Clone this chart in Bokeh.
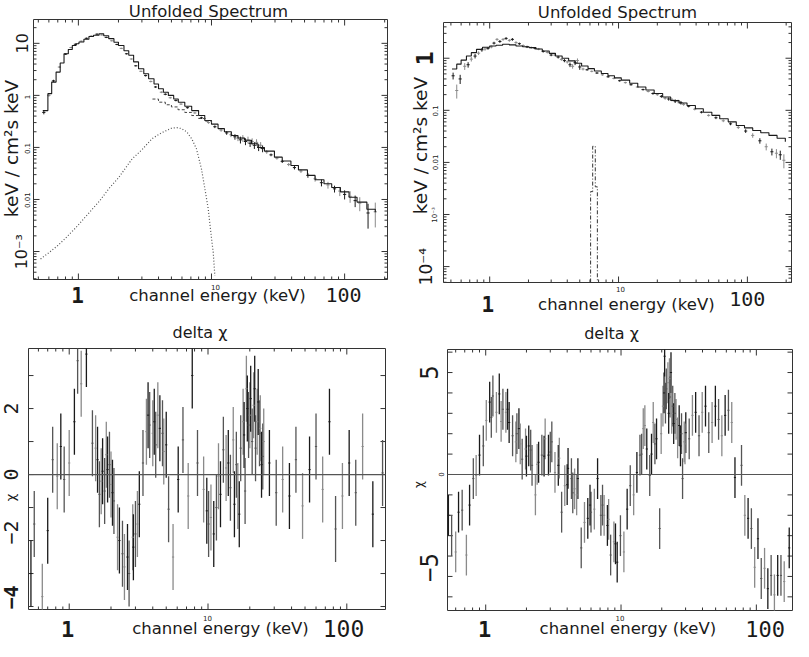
import math
from bokeh.plotting import figure
from bokeh.models import Label
from bokeh.layouts import column, row
from bokeh.embed import file_html
from bokeh.resources import INLINE

# ---------------- data: panel A (top-left, unfolded spectrum) ----------------
a_model_e = [0.54, 0.59, 0.63, 0.68, 0.73, 0.78, 0.84, 0.90, 0.96, 1.01,
             1.1, 1.2, 1.3, 1.43, 1.55, 1.69, 1.85, 2.0, 2.2, 2.39,
             2.6, 2.83, 3.1, 3.37, 3.7, 4.0, 4.35, 4.74, 5.2, 5.63,
             6.3, 7.1, 8.0, 8.9, 10.0, 11.2, 12.5, 14.1, 15.8, 17.7,
             20, 22.3, 25, 29.7, 34, 39.5, 45, 52.6, 60, 70,
             80, 93, 108, 124, 147, 170]
a_model_f = [0.51, 1.08, 1.8, 2.8, 4.2, 6.3, 7.6, 9.1, 9.8, 10.6,
             12.0, 13.5, 14.3, 15.3, 14.0, 12.3, 10.5, 9.1, 7.2, 5.9,
             4.4, 3.25, 2.6, 2.09, 1.65, 1.34, 1.15, 1.0, 0.85, 0.74,
             0.62, 0.51, 0.41, 0.33, 0.28, 0.23, 0.2, 0.17, 0.152, 0.137,
             0.118, 0.10, 0.085, 0.065, 0.055, 0.045, 0.037, 0.029, 0.024, 0.020,
             0.017, 0.014, 0.011, 0.0089, 0.0065, 0.0057]
a_pl_e = [3.6, 4.0, 4.5, 5.0, 5.6, 6.3, 7.1, 8.0, 9.0, 10.0]
a_pl_f = [0.85, 0.74, 0.66, 0.6, 0.53, 0.47, 0.41, 0.36, 0.32, 0.28]
a_bb_e = [0.52, 0.6, 0.7, 0.8, 0.96, 1.2, 1.45, 1.69, 2.0, 2.53, 3.0, 3.57, 4.2,
          5.03, 5.5, 5.98, 6.5, 7.1, 7.7, 8.4, 9.0, 9.45, 10.0, 10.3, 10.6]
a_bb_f = [7.2e-4, 9.5e-4, 1.3e-3, 1.8e-3, 2.9e-3, 5.5e-3, 9.5e-3, 0.016, 0.026, 0.06,
          0.09, 0.147, 0.19, 0.235, 0.24, 0.229, 0.2, 0.147, 0.095, 0.039, 0.014,
          6.6e-3, 1.8e-3, 9.7e-4, 3.4e-4]
a_data_e = [0.55, 0.6, 0.65, 0.72, 0.8, 0.88, 0.95, 1.05, 1.15, 1.25,
            1.38, 1.5, 1.62, 1.78, 1.95, 2.1, 2.3, 2.5, 2.7, 2.95,
            3.2, 3.5, 3.8, 4.2, 4.5, 4.9, 5.4, 5.9, 6.6, 7.5,
            8.4, 9.5, 10.6, 11.8, 13.0, 14.0, 15.0, 15.8, 16.5, 17.2,
            18.0, 18.8, 19.5, 20.2, 21.0, 21.8, 22.6, 23.4, 24.2, 26,
            28, 31, 34, 38, 42, 47, 53, 60, 67, 75,
            84, 92, 100, 110, 120, 130, 150, 170]
a_data_f = [0.47, 1.0, 1.9, 3.5, 6.2, 8.3, 9.6, 11.0, 12.5, 13.8,
            15.0, 14.5, 13.0, 11.2, 9.5, 8.0, 6.3, 5.0, 3.7, 2.9,
            2.4, 1.85, 1.45, 1.15, 1.05, 0.9, 0.8, 0.68, 0.58, 0.46,
            0.37, 0.3, 0.25, 0.215, 0.19, 0.175, 0.16, 0.15, 0.14, 0.15,
            0.13, 0.14, 0.12, 0.13, 0.11, 0.125, 0.10, 0.11, 0.095, 0.082,
            0.072, 0.062, 0.054, 0.047, 0.041, 0.035, 0.029, 0.025, 0.021, 0.019,
            0.016, 0.0145, 0.0125, 0.0115, 0.0095, 0.0085, 0.0055, 0.0058]
a_data_rel = [0.08, 0.06, 0.05, 0.04, 0.03, 0.03, 0.03, 0.03, 0.03, 0.03,
              0.03, 0.03, 0.03, 0.03, 0.03, 0.03, 0.03, 0.03, 0.03, 0.03,
              0.04, 0.04, 0.04, 0.04, 0.04, 0.04, 0.04, 0.04, 0.04, 0.04,
              0.05, 0.05, 0.06, 0.07, 0.08, 0.1, 0.12, 0.12, 0.15, 0.15,
              0.15, 0.15, 0.15, 0.15, 0.15, 0.15, 0.15, 0.15, 0.15, 0.08,
              0.06, 0.06, 0.07, 0.07, 0.08, 0.08, 0.1, 0.12, 0.15, 0.15,
              0.15, 0.2, 0.2, 0.25, 0.25, 0.3, 0.5, 0.5]

# ---------------- data: panel B (top-right, unfolded spectrum) ----------------
b_model_e = [0.51, 0.555, 0.6, 0.66, 0.72, 0.79, 0.88, 1.0, 1.12, 1.26,
             1.42, 1.6, 1.8, 2.02, 2.28, 2.56, 2.9, 3.24, 3.65, 4.1,
             4.6, 5.17, 5.8, 6.5, 7.35, 8.28, 9.3, 10.5, 12.2, 14.1,
             16.3, 18.9, 22, 25.4, 29.5, 34, 39.5, 45.5, 53, 61,
             71, 82, 95, 110, 127, 147, 170, 197]
b_model_f = [0.62, 0.77, 0.92, 1.1, 1.28, 1.48, 1.62, 1.72, 1.78, 1.85,
             1.8, 1.72, 1.66, 1.6, 1.5, 1.38, 1.24, 1.1, 1.0, 0.89,
             0.8, 0.71, 0.63, 0.57, 0.51, 0.46, 0.42, 0.38, 0.33, 0.28,
             0.245, 0.21, 0.18, 0.154, 0.138, 0.124, 0.107, 0.092, 0.08, 0.069,
             0.06, 0.051, 0.046, 0.041, 0.037, 0.033, 0.029, 0.025]
b_line_edges = [6.07, 6.3, 6.6, 6.85]
b_line_f = [0.00275, 0.0204, 0.0034]
b_data_e = [0.52, 0.555, 0.59, 0.64, 0.68, 0.72, 0.77, 0.82, 0.87, 0.92,
            0.97, 1.03, 1.08, 1.14, 1.2, 1.27, 1.34, 1.42, 1.5, 1.6,
            1.7, 1.82, 1.95, 2.1, 2.25, 2.4, 2.6, 2.8, 3.0, 3.2,
            3.4, 3.6, 3.8, 4.0, 4.2, 4.4, 4.6, 4.8, 5.0, 5.3,
            5.7, 6.2, 6.8, 7.5, 8.3, 9.2, 10.2, 11.3, 12.5, 14,
            15.5, 17, 18.5, 20, 21.5, 23, 24.5, 26, 27.5, 29,
            30.5, 32, 35, 39, 44, 50, 57, 65, 74, 85,
            97, 110, 125, 140, 155, 168, 180, 192]
b_data_f = [0.46, 0.24, 0.4, 0.7, 0.75, 0.96, 1.1, 1.25, 1.45, 1.5,
            1.55, 1.65, 1.95, 2.3, 2.1, 2.3, 2.4, 2.2, 2.3, 2.0,
            1.9, 1.75, 1.65, 1.6, 1.55, 1.5, 1.35, 1.3, 1.15, 1.15,
            1.05, 0.95, 0.9, 0.85, 0.75, 0.7, 0.82, 0.9, 0.68, 0.62,
            0.6, 0.56, 0.52, 0.48, 0.44, 0.41, 0.37, 0.34, 0.31, 0.28,
            0.25, 0.23, 0.21, 0.2, 0.185, 0.17, 0.165, 0.16, 0.15, 0.148,
            0.14, 0.13, 0.12, 0.105, 0.092, 0.08, 0.072, 0.063, 0.055, 0.047,
            0.04, 0.033, 0.026, 0.02, 0.016, 0.015, 0.014, 0.011]
b_data_rel = [0.15, 0.3, 0.2, 0.15, 0.12, 0.1, 0.1, 0.08, 0.08, 0.07,
              0.06, 0.06, 0.06, 0.06, 0.06, 0.06, 0.06, 0.06, 0.06, 0.06,
              0.05, 0.05, 0.05, 0.05, 0.05, 0.05, 0.05, 0.05, 0.05, 0.05,
              0.06, 0.06, 0.07, 0.07, 0.1, 0.1, 0.1, 0.1, 0.12, 0.06,
              0.04, 0.04, 0.04, 0.04, 0.04, 0.04, 0.04, 0.04, 0.04, 0.04,
              0.04, 0.04, 0.05, 0.05, 0.06, 0.06, 0.07, 0.07, 0.08, 0.08,
              0.08, 0.06, 0.05, 0.05, 0.05, 0.05, 0.06, 0.06, 0.06, 0.07,
              0.08, 0.1, 0.12, 0.15, 0.15, 0.2, 0.2, 0.3]

# ---------------- data: panel C (bottom-left, delta chi) ----------------
c_e = [0.53, 0.56, 0.64, 0.70, 0.76, 0.82, 0.87, 0.92, 1.0, 1.09,
       1.15, 1.22, 1.33, 1.47, 1.55, 1.6, 1.65, 1.7, 1.74, 1.8,
       1.85, 1.89, 1.95, 2.0, 2.05, 2.1, 2.23, 2.3, 2.42, 2.5,
       2.63, 2.7, 2.87, 2.9, 3.0, 3.1, 3.2, 3.4, 3.6, 3.7,
       3.8, 4.0, 4.1, 4.2, 4.35, 4.5, 4.7, 4.8, 5.0, 5.2,
       5.6, 6.1, 6.6, 7.2, 7.7, 8.4, 9.3, 9.8, 10.1, 10.5,
       11.0, 11.5, 11.9, 12.3, 12.9, 13.5, 14.0, 14.5, 15.2, 15.5,
       16.0, 16.4, 16.8, 17.2, 17.9, 18.2, 18.5, 18.9, 19.2, 19.6,
       20.0, 20.3, 20.8, 21.3, 21.7, 22.0, 22.6, 23.0, 23.5, 23.8,
       24.3, 24.8, 25.2, 27.7, 31, 34.5, 38.6, 43, 48, 53.9,
       60, 67, 75, 83, 93, 104, 116, 130, 154, 181]
c_r = [-3.0, -1.5, -3.7, -1.7, 0.45, -0.05, 0.85, -0.15, 0.35, 1.6,
       3.45, 2.75, 3.65, 0.95, 0.8, 0.45, -0.6, -0.2, 0.1, -0.5,
       0.6, 0.15, 0.3, -0.3, -0.55, -0.8, -1.9, -2.0, -2.4, -2.8,
       -2.5, -3.0, -1.9, -2.2, -1.8, -1.5, -0.9, 0.35, 1.3, 1.8,
       1.5, 1.25, 1.6, 0.9, 1.8, 1.4, 1.25, 0.7, 0.9, -1.05,
       -2.5, -0.15, 1.05, -0.65, 3.0, 0.35, -0.45, -1.1, -1.5, -1.3,
       -1.8, -1.0, -0.05, -0.6, 0.75, 0.2, 0.35, -0.4, 1.05, -0.9,
       0.3, -0.65, -1.2, 0.8, 1.6, 1.2, -0.5, 2.6, 2.0, 1.5,
       1.8, 2.3, 1.0, 2.1, 2.6, 0.8, 1.6, 2.2, 1.25, 1.4,
       0.3, 0.55, 1.0, 0.35, -0.55, -0.15, -0.65, 0.45, -0.95, 0.15,
       0.85, -0.45, 1.6, -1.65, -0.65, 0.35, -0.55, 0.85, -1.2, 0.05]

# ---------------- data: panel D (bottom-right, delta chi) ----------------
d_e = [0.53, 0.56, 0.6, 0.63, 0.67, 0.72, 0.76, 0.81, 0.85, 0.9,
       0.96, 1.01, 1.07, 1.13, 1.2, 1.26, 1.34, 1.41, 1.49, 1.58,
       1.67, 1.76, 1.86, 1.97, 2.08, 2.2, 2.33, 2.46, 2.6, 2.75,
       2.91, 3.08, 3.25, 3.44, 3.64, 3.84, 4.06, 4.3, 4.54, 4.8,
       5.08, 5.37, 5.68, 6.0, 6.35, 6.71, 7.1, 7.5, 7.93, 8.38,
       8.86, 9.37, 9.9, 10.5, 11.1, 11.7, 12.4, 13.1, 13.8, 14.6,
       15.5, 16.3, 17.3, 18.3, 19.3, 20.4, 21.0, 21.6, 22.8, 23.4,
       24.1, 25.5, 26.9, 28.5, 29.3, 30.1, 31.9, 33.7, 35.6, 37.7,
       39.8, 42.1, 44.5, 47.1, 49.8, 52.6, 55.6, 58.8, 62.2, 65.8,
       69.5, 77.7, 82.2, 86.9, 91.9, 97.2, 102.8, 108.7, 115, 121.6,
       128.6, 136, 143.8, 152, 160.7, 175,
       1.1, 1.3, 1.45, 1.7, 1.8, 2.0, 2.15, 2.4, 2.7, 3.0,
       3.5, 4.0, 4.4, 4.7, 5.9, 7.3, 8.1, 9.1, 14.2, 15.0,
       16.8, 17.8, 19.8, 20.8, 21.3, 22.2, 22.5, 23.0, 23.7, 24.5,
       25.0, 26.2, 27.5, 28.0, 29.7]
d_r = [-2.0, -3.0, -3.8, -1.85, -1.75, -3.95, -1.5, -0.2, -0.05, 0.95,
       1.4, 2.65, 3.55, 3.85, 3.05, 3.95, 3.2, 3.05, 2.55, 1.9,
       1.6, 2.25, 0.75, 1.25, 1.4, 0.45, -1.0, 0.6, 0.95, 1.75,
       0.95, 1.6, 0.1, 0.45, -1.85, -0.55, 0.3, -0.2, -0.7, -0.2,
       -3.6, -2.35, -2.15, -1.85, -1.7, -0.2, -2.0, -2.0, -2.5, -3.95,
       -3.3, -4.3, -3.0, -3.8, -1.7, -0.55, -1.0, 0.1, 0.95, 2.25,
       1.25, -0.05, 2.55, 1.75, -2.65, 3.35, 5.8, 4.2, 4.7, 5.0,
       3.35, 2.7, 2.4, -0.2, 1.6, 2.05, 1.75, 2.9, 3.05, 1.9,
       3.05, 3.35, 2.05, 2.55, 3.35, 2.7, 1.9, 2.9, 3.15, 2.55,
       -0.15, 0.45, -2.0, -2.15, -2.65, -4.55, -3.15, -5.1, -4.6, -5.6,
       -4.95, -5.9, -4.95, -4.95, -5.25, -3.6,
       2.8, 2.6, 3.2, 2.0, 1.5, 0.9, 1.2, 0.5, 0.9, 1.1,
       0.8, -0.5, -0.9, -1.0, -1.5, -1.5, -2.2, -3.4, 1.0, 2.4,
       1.0, 1.5, 2.0, 4.0, 3.5, 4.5, 3.0, 3.8, 3.0, 2.5,
       3.0, 1.8, 1.4, 2.0, 1.5]

# tick / text labels
x_tick_labels = ["1", "10", "100"]
y_ticks_a = ["10", "1", "0.1", "0.01", "10⁻³"]
y_ticks_b = ["1", "0.1", "0.01", "10⁻³", "10⁻⁴"]
y_ticks_c = ["2", "0", "−2", "−4"]
y_ticks_d = ["5", "0", "−5"]
xlabel = "channel energy (keV)"
ylabel_flux = "keV / cm²s keV"
ylabel_chi = "χ"
title_spec = "Unfolded Spectrum"
title_res = "delta  χ"

SANS = "DejaVu Sans"
MONO = "DejaVu Sans Mono"
INK = "#1a1a1a"
GREY = "#8a8a8a"
ROT = math.pi / 2

# plot-box geometry of the reference (page px) and axis ranges of each box
REF = {
    "A": dict(box=(41, 395, 25, 287), xr=(0.46, 210), yr=(2.9e-4, 28.7), ylog=True),
    "B": dict(box=(453, 807, 28, 290), xr=(0.438, 220), yr=(4.95e-5, 4.85), ylog=True),
    "C": dict(box=(36, 393, 356, 617), xr=(0.509, 190), yr=(-4.09, 3.82), ylog=False),
    "D": dict(box=(457, 809, 357, 618), xr=(0.522, 185), yr=(-6.67, 6.13), ylog=False),
}
# this page: figure rectangle (left, top, width, height) and plot box, page px
MINE = {
    "A": dict(fig=(8, 8, 392, 322), box=(41, 395, 27, 287)),
    "B": dict(fig=(400, 8, 401, 322), box=(451, 799, 30, 290)),
    "C": dict(fig=(8, 330, 392, 319), box=(36, 393, 356, 617)),
    "D": dict(fig=(400, 330, 401, 319), box=(455, 800, 357, 618)),
}


def fwd(v, log):
    return math.log10(v) if log else v


def inv(v, log):
    return 10 ** v if log else v


def conv_ref(key):
    g = REF[key]
    L, R, T, B = g["box"]
    lx0, lx1 = fwd(g["xr"][0], True), fwd(g["xr"][1], True)
    ly0, ly1 = fwd(g["yr"][0], g["ylog"]), fwd(g["yr"][1], g["ylog"])

    def conv(px, py):
        x = inv(lx0 + (px - L) / (R - L) * (lx1 - lx0), True)
        y = inv(ly0 + (B - py) / (B - T) * (ly1 - ly0), g["ylog"])
        return x, y
    return conv


def make_panel(key):
    g = REF[key]
    m = MINE[key]
    fl, ft, fw, fh = m["fig"]
    L, R, T, B = m["box"]
    lx0, lx1 = fwd(g["xr"][0], True), fwd(g["xr"][1], True)
    ly0, ly1 = fwd(g["yr"][0], g["ylog"]), fwd(g["yr"][1], g["ylog"])
    ppx = (R - L) / (lx1 - lx0)
    ppy = (B - T) / (ly1 - ly0)
    fxr = (inv(lx0 - (L - fl) / ppx, True), inv(lx1 + (fl + fw - R) / ppx, True))
    fyr = (inv(ly0 - (ft + fh - B) / ppy, g["ylog"]), inv(ly1 + (T - ft) / ppy, g["ylog"]))
    p = figure(width=fw, height=fh, x_axis_type="log",
               y_axis_type="log" if g["ylog"] else "linear",
               x_axis_location=None, y_axis_location=None,
               x_range=fxr, y_range=fyr, output_backend="svg",
               toolbar_location=None, min_border=0)
    p.outline_line_color = None
    p.background_fill_color = "white"
    p.border_fill_color = "white"
    for gr in p.grid:
        gr.visible = False
    p.xgrid.grid_line_color = None
    p.ygrid.grid_line_color = None

    # plot box
    x0, x1 = g["xr"]
    y0, y1 = g["yr"]
    p.quad(left=[x0], right=[x1], bottom=[y0], top=[y1], fill_color=None,
           line_color="#333333", line_width=1)

    # tick marks (inside the box, on all four sides)
    def xt(v, L_px):
        return inv(fwd(v, True) + L_px / ppx, True)

    def yt(v, L_px):
        return inv(fwd(v, g["ylog"]) + L_px / ppy, g["ylog"])

    sx0, sy0, sx1, sy1 = [], [], [], []
    for n in range(math.floor(lx0) - 1, math.ceil(lx1) + 1):
        for k in range(1, 10):
            v = k * 10 ** n
            if x0 < v < x1:
                ln = 6 if k == 1 else 3
                sx0 += [v, v]; sx1 += [v, v]
                sy0 += [y0, y1]; sy1 += [yt(y0, ln), yt(y1, -ln)]
    if g["ylog"]:
        yvals = []
        for n in range(math.floor(ly0) - 1, math.ceil(ly1) + 1):
            for k in range(1, 10):
                v = k * 10 ** n
                if y0 < v < y1:
                    yvals.append((v, 6 if k == 1 else 3))
    else:
        yvals = [(float(v), 5) for v in range(math.ceil(y0), math.floor(y1) + 1)]
    for v, ln in yvals:
        sy0 += [v, v]; sy1 += [v, v]
        sx0 += [x0, x1]; sx1 += [xt(x0, ln), xt(x1, -ln)]
    p.segment(sx0, sy0, sx1, sy1, line_color="#333333", line_width=1)
    return p


def add_text(p, conv, px, py, text, size, font=SANS, angle=0.0, color=INK, style="normal"):
    x, y = conv(px, py)
    p.add_layout(Label(x=x, y=y, text=text, text_font=font,
                       text_font_size=f"{size}px", text_align="center",
                       text_baseline="middle", angle=angle, text_color=color,
                       text_font_style=style))


def flux_errors(p, es, fs, rel):
    x0, y0, y1, hx0, hx1, cols = [], [], [], [], [], []
    for i, (e, f, r) in enumerate(zip(es, fs, rel)):
        cols.append(INK if i % 2 == 0 else GREY)
        x0.append(e); y0.append(f * (1 - r)); y1.append(f * (1 + r))
        hx0.append(e * 10 ** -0.012); hx1.append(e * 10 ** 0.012)
    p.segment(x0, y0, x0, y1, line_color=cols, line_width=1)
    p.segment(hx0, fs, hx1, fs, line_color=cols, line_width=1)


def residuals(p, key, es, rs):
    lo, hi = REF[key]["yr"]
    xlo, xhi = REF[key]["xr"]
    x0, y0, y1, hx0, hx1, hy, cols, hcols = [], [], [], [], [], [], [], []
    for i, (e, r) in enumerate(zip(es, rs)):
        c = INK if i % 3 == 0 else ("#555555" if i % 3 == 1 else GREY)
        x0.append(e); y0.append(max(r - 1.0, lo)); y1.append(min(r + 1.0, hi))
        cols.append(c)
        if lo < r < hi:
            hx0.append(max(e * 10 ** -0.008, xlo)); hx1.append(min(e * 10 ** 0.008, xhi))
            hy.append(r); hcols.append(c)
    p.segment(x0, y0, x0, y1, line_color=cols, line_width=1.3)
    p.segment(hx0, hy, hx1, hy, line_color=hcols, line_width=1)
    p.segment([xlo], [0], [xhi], [0], line_color="#555555", line_width=1.2)


B_ = "bold"

# ---------------- panel A ----------------
pA = make_panel("A")
flux_errors(pA, a_data_e, a_data_f, a_data_rel)
pA.step(a_model_e, a_model_f, mode="after", line_color=INK, line_width=1.1)
pA.step(a_pl_e, a_pl_f, mode="after", line_color="#444444", line_width=1, line_dash="3 2")
pA.line(a_bb_e, a_bb_f, line_color="#555555", line_width=1.2, line_dash="1 2")
cA = conv_ref("A")
add_text(pA, cA, 216, 17, title_spec, 16.5)
add_text(pA, cA, 225, 303, xlabel, 16.5)
add_text(pA, cA, 85, 303, x_tick_labels[0], 21, MONO, style=B_)
add_text(pA, cA, 223, 295, x_tick_labels[1], 7)
add_text(pA, cA, 351, 303, x_tick_labels[2], 20, MONO)
add_text(pA, cA, 19, 155, ylabel_flux, 18.5, angle=ROT)
add_text(pA, cA, 29, 49, y_ticks_a[0], 16, angle=ROT)
add_text(pA, cA, 34, 103, y_ticks_a[1], 7, angle=ROT)
add_text(pA, cA, 34, 155, y_ticks_a[2], 7, angle=ROT)
add_text(pA, cA, 34, 207, y_ticks_a[3], 7, angle=ROT)
add_text(pA, cA, 29, 259, y_ticks_a[4], 16, angle=ROT)

# ---------------- panel B ----------------
pB = make_panel("B")
flux_errors(pB, b_data_e, b_data_f, b_data_rel)
pB.step(b_model_e, b_model_f, mode="after", line_color=INK, line_width=1.1)
base = REF["B"]["yr"][0]
gx, gy = [b_line_edges[0]], [base]
for i, f in enumerate(b_line_f):
    gx += [b_line_edges[i], b_line_edges[i + 1]]
    gy += [f, f]
gx.append(b_line_edges[-1]); gy.append(base)
pB.line(gx, gy, line_color="#333333", line_width=1, line_dash="4 2 1 2")
cB = conv_ref("B")
add_text(pB, cB, 630, 18, title_spec, 16.5)
add_text(pB, cB, 639, 312, xlabel, 16.5)
add_text(pB, cB, 498, 312, x_tick_labels[0], 21, MONO, style=B_)
add_text(pB, cB, 633, 297, x_tick_labels[1], 7)
add_text(pB, cB, 762, 307, x_tick_labels[2], 20, MONO)
add_text(pB, cB, 430, 152, ylabel_flux, 18.5, angle=ROT)
add_text(pB, cB, 434, 64, y_ticks_b[0], 23, MONO, angle=ROT, style=B_)
add_text(pB, cB, 444, 117, y_ticks_b[1], 7, angle=ROT)
add_text(pB, cB, 444, 169, y_ticks_b[2], 7, angle=ROT)
add_text(pB, cB, 444, 222, y_ticks_b[3], 7, angle=ROT)
add_text(pB, cB, 435, 274, y_ticks_b[4], 17, angle=ROT)

# ---------------- panel C ----------------
pC = make_panel("C")
residuals(pC, "C", c_e, c_r)
cC = conv_ref("C")
add_text(pC, cC, 210, 340, title_res, 16)
add_text(pC, cC, 228, 636, xlabel, 16.5)
add_text(pC, cC, 75, 636, x_tick_labels[0], 22, MONO, style=B_)
add_text(pC, cC, 215, 625, x_tick_labels[1], 7)
add_text(pC, cC, 351, 636, x_tick_labels[2], 23, MONO)
add_text(pC, cC, 18, 416, y_ticks_c[0], 20, MONO, angle=ROT)
add_text(pC, cC, 18, 482, y_ticks_c[1], 20, MONO, angle=ROT)
add_text(pC, cC, 18, 505, ylabel_chi, 13, angle=ROT)
add_text(pC, cC, 18, 540, y_ticks_c[2], 20, MONO, angle=ROT)
add_text(pC, cC, 18, 605, y_ticks_c[3], 20, MONO, angle=ROT, style=B_)

# ---------------- panel D ----------------
pD = make_panel("D")
residuals(pD, "D", d_e, d_r)
cD = conv_ref("D")
add_text(pD, cD, 627, 341, title_res, 16)
add_text(pD, cD, 641, 636, xlabel, 16.5)
add_text(pD, cD, 495, 636, x_tick_labels[0], 22, MONO, style=B_)
add_text(pD, cD, 633, 625, x_tick_labels[1], 7)
add_text(pD, cD, 781, 636, x_tick_labels[2], 22, MONO)
add_text(pD, cD, 438, 380, y_ticks_d[0], 24, MONO, angle=ROT)
add_text(pD, cD, 450, 482, y_ticks_d[1], 7, angle=ROT)
add_text(pD, cD, 438, 575, y_ticks_d[2], 24, MONO, angle=ROT)
add_text(pD, cD, 428, 492, ylabel_chi, 12, angle=ROT)

layout = column(row(pA, pB), row(pC, pD))

with open("out.html", "w", encoding="utf-8") as fh:
    fh.write(file_html(layout, INLINE, title="Unfolded Spectrum"))
